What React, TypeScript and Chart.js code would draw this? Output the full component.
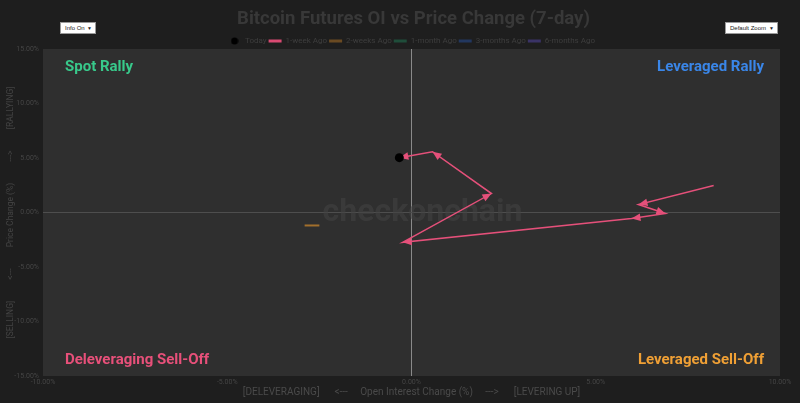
import React, { useEffect, useRef } from 'react';
import { Chart, registerables } from 'chart.js';

Chart.register(...registerables);

const TITLE = 'Bitcoin Futures OI vs Price Change (7-day)';
const SERIES_NAMES = ['Today', '1-week Ago', '2-weeks Ago', '1-month Ago', '3-months Ago', '6-months Ago'];
const SERIES_COLORS = ['#000000', '#e5507a', '#c9862c', '#2f9e6f', '#3b6fd4', '#6b5bd0'];
const LEGEND_ICON_COLORS = ['#000000', '#d94a72', '#6a4a22', '#1f4d3a', '#22375f', '#3a3366'];

const TODAY_OI = [-0.33];
const TODAY_PRICE = [5.03];
const WEEK_OI = [8.2, 6.16, 6.89, 5.97, -0.24, 2.17, 0.57, -0.33];
const WEEK_PRICE = [2.47, 0.73, -0.09, -0.55, -2.74, 1.74, 5.58, 5.03];
const TWO_WEEK_OI = [-2.9, -2.5];
const TWO_WEEK_PRICE = [-1.19, -1.19];

const X_MIN = -10;
const X_MAX = 10;
const X_STEP = 5;
const Y_MIN = -15;
const Y_MAX = 15;
const Y_STEP = 5;

const X_TITLE = '[DELEVERAGING]      <---     Open Interest Change (%)     --->      [LEVERING UP]';
const Y_TITLE = '[SELLING]          <---          Price Change (%)          --->          [RALLYING]';

const QUADRANTS = [
  { text: 'Spot Rally', color: '#38c98b', pos: 'tl' },
  { text: 'Leveraged Rally', color: '#3a86e8', pos: 'tr' },
  { text: 'Deleveraging Sell-Off', color: '#e8507a', pos: 'bl' },
  { text: 'Leveraged Sell-Off', color: '#f0a035', pos: 'br' },
];

const WATERMARK = 'checkonchain';

const toPoints = (xs: number[], ys: number[]) => xs.map((x, i) => ({ x, y: ys[i] }));

const bgPlugin = {
  id: 'bgPlugin',
  beforeDraw(chart: any) {
    const { ctx, chartArea } = chart;
    ctx.save();
    ctx.fillStyle = '#2f2f2f';
    ctx.fillRect(chartArea.left, chartArea.top, chartArea.right - chartArea.left, chartArea.bottom - chartArea.top);
    ctx.font = 'bold 18.5px Roboto, sans-serif';
    ctx.fillStyle = '#383838';
    ctx.textAlign = 'center';
    ctx.textBaseline = 'middle';
    ctx.fillText(TITLE, (chartArea.left + chartArea.right) / 2 + 2, 19);
    ctx.restore();
  },
  beforeDatasetsDraw(chart: any) {
    const { ctx, chartArea } = chart;
    ctx.save();
    ctx.font = 'bold 32px Roboto, sans-serif';
    ctx.fillStyle = 'rgba(66,66,66,0.6)';
    ctx.textAlign = 'center';
    ctx.textBaseline = 'middle';
    const cx = (chartArea.left + chartArea.right) / 2 + 11;
    const cy = (chartArea.top + chartArea.bottom) / 2;
    ctx.fillText(WATERMARK, cx, cy);

    ctx.font = 'bold 15px Roboto, sans-serif';
    ctx.textBaseline = 'middle';
    for (const q of QUADRANTS) {
      ctx.fillStyle = q.color;
      const left = q.pos[1] === 'l';
      const top = q.pos[0] === 't';
      ctx.textAlign = left ? 'left' : 'right';
      const x = left ? chartArea.left + 22 : chartArea.right - 16;
      const y = top ? chartArea.top + 18 : chartArea.bottom - 16;
      ctx.fillText(q.text, x, y);
    }
    ctx.restore();
  },
};

const arrowPlugin = {
  id: 'arrowPlugin',
  afterDatasetDraw(chart: any, args: any) {
    const ds = chart.data.datasets[args.index];
    if (!ds.arrows) return;
    const pts = args.meta.data;
    const { ctx } = chart;
    ctx.save();
    ctx.fillStyle = ds.borderColor;
    for (let i = 1; i < pts.length; i++) {
      const a = pts[i - 1];
      const b = pts[i];
      const dx = b.x - a.x;
      const dy = b.y - a.y;
      const len = Math.hypot(dx, dy);
      if (len < 1) continue;
      const ux = dx / len;
      const uy = dy / len;
      const L = 9;
      const W = 3.8;
      const bx = b.x - ux * L;
      const by = b.y - uy * L;
      ctx.beginPath();
      ctx.moveTo(b.x, b.y);
      ctx.lineTo(bx - uy * W, by + ux * W);
      ctx.lineTo(bx + uy * W, by - ux * W);
      ctx.closePath();
      ctx.fill();
    }
    ctx.restore();
  },
};

function makeDotIcon(): HTMLCanvasElement {
  const c = document.createElement('canvas');
  c.width = 8;
  c.height = 8;
  const g = c.getContext('2d');
  if (g) {
    g.fillStyle = '#000000';
    g.beginPath();
    g.arc(4, 4, 3.5, 0, Math.PI * 2);
    g.fill();
  }
  return c;
}

export default function App() {
  const canvasRef = useRef<HTMLCanvasElement | null>(null);

  useEffect(() => {
    const canvas = canvasRef.current;
    if (!canvas) return;
    const dotIcon = makeDotIcon();
    const datasets: any[] = [
      {
        label: SERIES_NAMES[0],
        data: toPoints(TODAY_OI, TODAY_PRICE),
        showLine: false,
        backgroundColor: SERIES_COLORS[0],
        borderColor: SERIES_COLORS[0],
        pointRadius: 4.5,
        pointBorderWidth: 0,
      },
      {
        label: SERIES_NAMES[1],
        data: toPoints(WEEK_OI, WEEK_PRICE),
        showLine: true,
        borderColor: SERIES_COLORS[1],
        backgroundColor: SERIES_COLORS[1],
        borderWidth: 1.5,
        pointRadius: 0,
        arrows: true,
      },
      {
        label: SERIES_NAMES[2],
        data: toPoints(TWO_WEEK_OI, TWO_WEEK_PRICE),
        showLine: true,
        borderColor: 'rgba(201,134,44,0.75)',
        backgroundColor: SERIES_COLORS[2],
        borderWidth: 2,
        pointRadius: 0,
      },
      { label: SERIES_NAMES[3], data: [], showLine: true, borderColor: SERIES_COLORS[3], pointRadius: 0 },
      { label: SERIES_NAMES[4], data: [], showLine: true, borderColor: SERIES_COLORS[4], pointRadius: 0 },
      { label: SERIES_NAMES[5], data: [], showLine: true, borderColor: SERIES_COLORS[5], pointRadius: 0 },
    ];

    const chart = new Chart(canvas, {
      type: 'scatter',
      data: { datasets },
      plugins: [bgPlugin, arrowPlugin],
      options: {
        animation: false,
        responsive: false,
        devicePixelRatio: 1,
        layout: { padding: { left: 0, right: 20, top: 35, bottom: 0 } },
        plugins: {
          tooltip: { enabled: false },
          title: { display: false },
          legend: {
            display: true,
            fullSize: false,
            maxHeight: 14,
            labels: {
              color: '#3e3e3e',
              font: { size: 8, family: 'Roboto, sans-serif' },
              usePointStyle: true,
              pointStyleWidth: 13,
              boxHeight: 6,
              padding: 2,
              generateLabels: (c: any) =>
                c.data.datasets.map((ds: any, i: number) => ({
                  text: ds.label,
                  fillStyle: LEGEND_ICON_COLORS[i],
                  strokeStyle: LEGEND_ICON_COLORS[i],
                  lineWidth: i === 0 ? 0 : 3,
                  pointStyle: i === 0 ? dotIcon : 'line',
                  hidden: false,
                  datasetIndex: i,
                  fontColor: '#3e3e3e',
                })),
            },
          },
        },
        scales: {
          x: {
            type: 'linear',
            min: X_MIN,
            max: X_MAX,
            afterFit: (s: any) => { s.height = 27; },
            ticks: {
              stepSize: X_STEP,
              color: '#454545',
              font: { size: 7, family: 'Roboto, sans-serif' },
              padding: 2,
              callback: (v: any) => Number(v).toFixed(2) + '%',
            },
            grid: {
              drawTicks: false,
              color: (ctx: any) => (ctx.tick && ctx.tick.value === 0 ? '#8a8a8a' : 'rgba(0,0,0,0)'),
              lineWidth: 1,
            },
            border: { display: false },
            title: {
              display: true,
              text: X_TITLE,
              color: '#4a4a4a',
              font: { size: 10, family: 'Roboto, sans-serif' },
              padding: { top: 2, bottom: 5 },
            },
          },
          y: {
            type: 'linear',
            min: Y_MIN,
            max: Y_MAX,
            afterFit: (s: any) => { s.width = 43; },
            ticks: {
              stepSize: Y_STEP,
              color: '#454545',
              font: { size: 7, family: 'Roboto, sans-serif' },
              padding: 4,
              callback: (v: any) => Number(v).toFixed(2) + '%',
            },
            grid: {
              drawTicks: false,
              color: (ctx: any) => (ctx.tick && ctx.tick.value === 0 ? '#4e4e4e' : 'rgba(0,0,0,0)'),
              lineWidth: 1,
            },
            border: { display: false },
            title: {
              display: true,
              text: Y_TITLE,
              color: '#444444',
              font: { size: 8.5, family: 'Roboto, sans-serif' },
              padding: { top: 6, bottom: 2 },
            },
          },
        },
      } as any,
    });
    return () => chart.destroy();
  }, []);

  const boxStyle: React.CSSProperties = {
    position: 'absolute',
    top: 22,
    height: 12,
    background: '#ffffff',
    border: '1px solid #9a9a9a',
    boxSizing: 'border-box',
    font: '6px Arial, sans-serif',
    color: '#222',
    display: 'flex',
    alignItems: 'center',
    justifyContent: 'space-between',
    padding: '0 3px 0 4px',
  };

  return (
    <div style={{ position: 'absolute', left: 0, top: 0, width: 800, height: 403, background: '#1e1e1e', overflow: 'hidden' }}>
      <canvas ref={canvasRef} width={800} height={403} style={{ display: 'block', width: 800, height: 403 }} />
      <div style={{ ...boxStyle, left: 60, width: 36 }}>
        <span>Info On</span>
        <span style={{ fontSize: 5 }}>▼</span>
      </div>
      <div style={{ ...boxStyle, left: 725, width: 53 }}>
        <span>Default Zoom</span>
        <span style={{ fontSize: 5 }}>▼</span>
      </div>
    </div>
  );
}
